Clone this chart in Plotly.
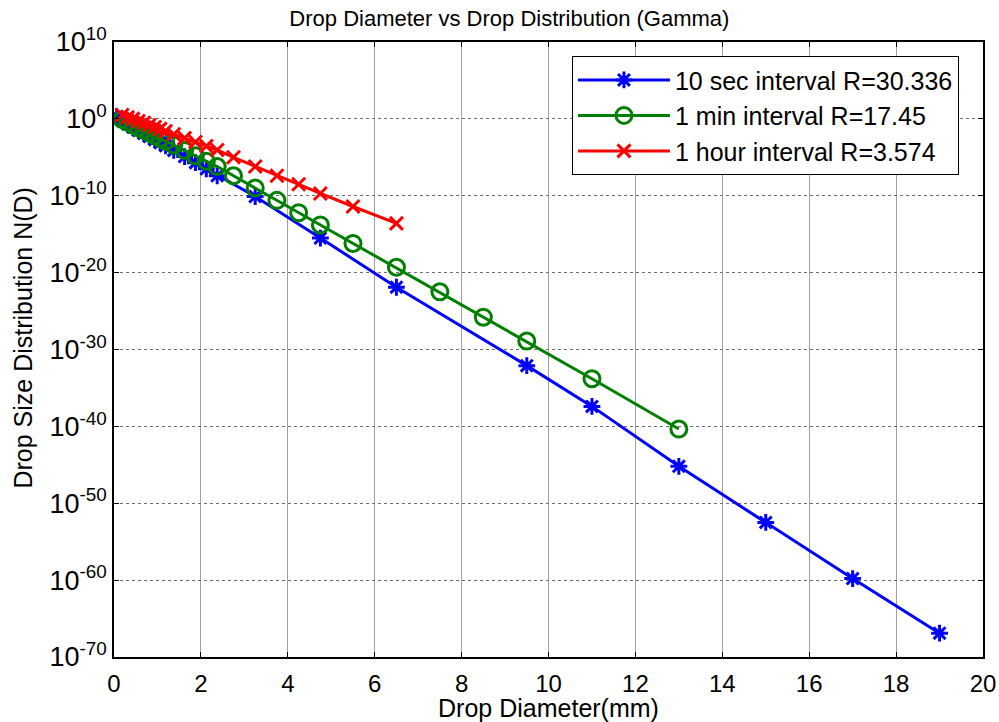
import plotly.graph_objects as go

# ---- data ----
d_10sec = [0.062, 0.187, 0.312, 0.437, 0.562, 0.687, 0.812, 0.937, 1.062, 1.187,
           1.375, 1.625, 1.875, 2.125, 2.375, 3.25, 4.75, 6.5, 9.5, 11, 13, 15, 17, 19]
log_n_10sec = [0.3, -0.2, -0.65, -1.1, -1.5, -1.9, -2.3, -2.7, -3.1, -3.5,
               -4.1, -4.9, -5.7, -6.5, -7.4, -10.1, -15.5, -21.9, -32.1, -37.4,
               -45.2, -52.5, -59.8, -66.9]

d_1min = [0.187, 0.312, 0.437, 0.562, 0.687, 0.812, 0.937, 1.062, 1.187, 1.375,
          1.625, 1.875, 2.125, 2.375, 2.75, 3.25, 3.75, 4.25, 4.75, 5.5,
          6.5, 7.5, 8.5, 9.5, 11, 13]
log_n_1min = [-0.1, -0.45, -0.8, -1.15, -1.5, -1.85, -2.2, -2.55, -2.9, -3.4,
              -4.1, -4.8, -5.5, -6.2, -7.4, -9.0, -10.6, -12.2, -13.8, -16.2,
              -19.3, -22.5, -25.8, -28.9, -33.8, -40.35]

d_1hour = [0.187, 0.312, 0.437, 0.562, 0.687, 0.812, 0.937, 1.062, 1.187, 1.375,
           1.625, 1.875, 2.125, 2.375, 2.75, 3.25, 3.75, 4.25, 4.75, 5.5, 6.5]
log_n_1hour = [0.5, 0.2, 0.0, -0.3, -0.5, -0.8, -1.05, -1.3, -1.6, -2.0,
               -2.5, -3.0, -3.55, -4.05, -5.0, -6.2, -7.4, -8.5, -9.7, -11.4, -13.6]

series_names = ["10 sec interval R=30.336", "1 min interval R=17.45", "1 hour interval R=3.574"]
series_colors = ["#0000ff", "#008000", "#ff0000"]

x_ticks = list(range(0, 21, 2))
y_exponents = [10, 0, -10, -20, -30, -40, -50, -60, -70]

title_text = "Drop Diameter vs Drop Distribution (Gamma)"
x_title = "Drop Diameter(mm)"
y_title = "Drop Size Distribution N(D)"

n_10sec = [10 ** v for v in log_n_10sec]
n_1min = [10 ** v for v in log_n_1min]
n_1hour = [10 ** v for v in log_n_1hour]

FONT = "Liberation Sans, Arial, Helvetica, sans-serif"

fig = go.Figure()
fig.add_trace(go.Scatter(
    x=d_10sec, y=n_10sec, mode="lines+markers", name=series_names[0],
    line=dict(color=series_colors[0], width=3),
    marker=dict(symbol="asterisk-open", size=14, line=dict(color=series_colors[0], width=3)),
))
fig.add_trace(go.Scatter(
    x=d_1min, y=n_1min, mode="lines+markers", name=series_names[1],
    line=dict(color=series_colors[1], width=3),
    marker=dict(symbol="circle-open", size=16, color=series_colors[1],
                line=dict(color=series_colors[1], width=3)),
))
fig.add_trace(go.Scatter(
    x=d_1hour, y=n_1hour, mode="lines+markers", name=series_names[2],
    line=dict(color=series_colors[2], width=3),
    marker=dict(symbol="x-thin-open", size=13, line=dict(color=series_colors[2], width=3)),
))

fig.update_layout(
    width=999, height=722,
    margin=dict(l=114, r=16, t=42, b=65, autoexpand=False),
    paper_bgcolor="white", plot_bgcolor="white",
    font=dict(family=FONT, color="black", size=22),
    title=dict(text=title_text, x=0.455, xref="paper", xanchor="center",
               y=0.975, yref="container", yanchor="middle",
               font=dict(size=22, family=FONT, color="black")),
    showlegend=True,
    legend=dict(x=0.527, y=0.977, xanchor="left", yanchor="top",
                bordercolor="black", borderwidth=1, bgcolor="white",
                font=dict(size=25, family=FONT, color="black"),
                tracegroupgap=0, itemwidth=92),
    annotations=[dict(text=y_title, textangle=-90, xref="paper", yref="paper",
                      x=-0.105, y=0.519, xanchor="center", yanchor="middle",
                      showarrow=False, font=dict(size=25, family=FONT, color="black"))],
)
fig.update_xaxes(
    range=[0, 20], tickvals=x_ticks, ticktext=[str(t) for t in x_ticks],
    showgrid=True, gridcolor="#a0a0a0", gridwidth=1,
    showline=True, linecolor="black", linewidth=1.5, mirror="ticks",
    ticks="inside", ticklen=5, tickcolor="black", zeroline=False,
    tickfont=dict(size=24, family=FONT), ticklabelstandoff=4,
    title=dict(text=x_title, font=dict(size=25, family=FONT), standoff=2),
    automargin=False,
)
fig.update_yaxes(
    type="log", range=[-70, 10],
    tickvals=[10.0 ** e for e in y_exponents],
    ticktext=["10<sup>%d</sup>" % e for e in y_exponents],
    showgrid=True, gridcolor="#707070", gridwidth=1, griddash="dot",
    showline=True, linecolor="black", linewidth=1.5, mirror="ticks",
    ticks="inside", ticklen=5, tickcolor="black", zeroline=False,
    tickfont=dict(size=27, family=FONT),
    automargin=False,
)

fig.write_html("out.html")
